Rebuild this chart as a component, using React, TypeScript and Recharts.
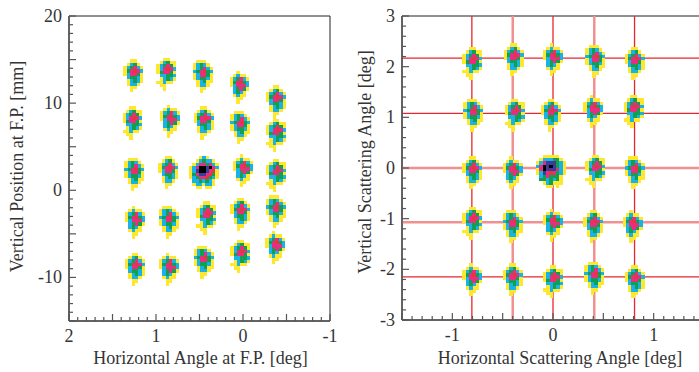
import React from 'react'
import { ScatterChart, Scatter, XAxis, YAxis, ReferenceLine, ReferenceArea } from 'recharts'

const FONT = "'Liberation Serif', 'Times New Roman', serif"
const TEXT = '#353535'
const AXIS = '#555'

// colour levels of the 2D histogram (low -> high)
const LEVELS = ['y', 'c', 'g', 'm', 'r', 'b', 'k']
const LEVEL_COLORS: Record<string, string> = {
  y: '#ffe72c', c: '#17b2e8', g: '#12a04f', m: '#e62d7f', r: '#e8343c', b: '#3a3c97', k: '#000000',
}

// blob shapes, one char per bin, anchored on row 3 (the core)
const ANCHOR_ROW = 3
const STAMPS: string[][] = [
  ['..yy..', '.ycgy.', 'ycgmcy', 'ygmrmc', 'ycmmgy', '.cggcy', '.ycgcy', '.yccy.', '..yy..', '..y...'],
  ['..yy..', '.ycgyy', 'ycgmgy', 'ycmrmc', 'ygmmgy', '.ccggc', '.ycgcy', 'yycyy.', '.yy...', '..y...'],
  ['.yyy..', 'ycgcy.', 'ycgmcy', 'cgmrgc', 'ycmmgy', 'ycggcy', '.ycgyy', '.yccy.', '..yy..', '..y...'],
  ['..y...', '.ycyy.', 'ycgmcy', 'ygmrgc', 'ycmmmc', '.cgmgy', '.cgcy.', '.ycyy.', '..yy..', '..y...'],
  ['...ycy...', '..ycgccy.', '.ycmmgmcy', 'ycmkkbkmc', 'ycbkkbmry', 'ygmbbmrgy', 'ycgmmrgcy', '.ccgcgcy.', '.yccyccy.', '..yy.yy..'],
  ['..yyyyy..', '.ycccggy.', 'ycmbbbgcy', 'cmkbkbgcy', 'ymkbbbmcy', 'ycbmrmgcy', '.cgmgggy.', '.ggcgcgy.', '..ycgyyy.', '...yy.y..'],
]

// left panel: spot cores at the focal plane
const LEFT_ANGLE = [
  1.26, 0.88, 0.46, 0.04, -0.38,
  1.27, 0.84, 0.45, 0.03, -0.38,
  1.25, 0.86, 0.45, 0.0, -0.38,
  1.24, 0.85, 0.42, 0.03, -0.38,
  1.24, 0.85, 0.45, 0.03, -0.37,
]
const LEFT_POS = [
  13.7, 13.9, 13.6, 12.4, 10.7,
  8.3, 8.5, 8.3, 7.8, 6.9,
  2.4, 2.6, 2.6, 2.8, 2.3,
  -3.1, -3.1, -2.6, -2.2, -1.9,
  -8.5, -8.5, -7.7, -7.0, -6.0,
]
const LEFT_STAMP = [0, 1, 2, 3, 0, 1, 3, 0, 2, 1, 2, 0, 4, 3, 1, 3, 2, 1, 0, 2, 0, 3, 2, 1, 3]

// right panel: reconstructed scattering angles
const RIGHT_H = [
  -0.80, -0.39, 0.0, 0.42, 0.81,
  -0.79, -0.38, -0.02, 0.40, 0.80,
  -0.80, -0.40, -0.02, 0.42, 0.81,
  -0.80, -0.40, 0.0, 0.40, 0.79,
  -0.80, -0.40, 0.0, 0.41, 0.81,
]
const RIGHT_V = [
  2.16, 2.23, 2.23, 2.20, 2.16,
  1.14, 1.14, 1.14, 1.21, 1.21,
  0.0, 0.0, 0.03, 0.03, 0.0,
  -0.99, -1.06, -1.03, -1.06, -1.06,
  -2.11, -2.11, -2.15, -2.08, -2.15,
]
const RIGHT_STAMP = [1, 0, 3, 2, 0, 2, 1, 0, 3, 1, 0, 3, 5, 1, 2, 1, 2, 3, 0, 3, 3, 0, 1, 2, 0]

// sieve-slit hole positions
const GRID_H = [-0.806, -0.4, 0, 0.41, 0.81]
const GRID_V = [2.17, 1.08, 0, -1.07, -2.15]
const GRID_H_LIGHT = [false, true, false, true, false]
const GRID_V_LIGHT = [false, false, true, true, false]

type Pt = { x: number; y: number }

function buildCells(xs: number[], ys: number[], stampIdx: number[], bx: number, by: number, flip: boolean) {
  const out: Record<string, Pt[]> = {}
  LEVELS.forEach(k => { out[k] = [] })
  xs.forEach((cx, i) => {
    const pat = STAMPS[stampIdx[i]]
    const ac = (pat[0].length - 1) / 2
    pat.forEach((row, r) => {
      row.split('').forEach((ch, c) => {
        if (ch === '.') return
        out[ch].push({ x: cx + (flip ? -1 : 1) * (c - ac) * bx, y: ys[i] - (r - ANCHOR_ROW) * by })
      })
    })
  })
  return out
}

const leftCells = buildCells(LEFT_ANGLE, LEFT_POS, LEFT_STAMP, 0.038, 0.38, true)
const rightCells = buildCells(RIGHT_H, RIGHT_V, RIGHT_STAMP, 0.033, 0.065, false)

function steps(from: number, to: number, div: number) {
  const out: number[] = []
  for (let k = from; k <= to; k++) out.push(k / div)
  return out
}

const textStyle: React.CSSProperties = { fontFamily: FONT, fontSize: 18, fill: TEXT }

const cellShape = (w: number, h: number, fill: string) => (p: any) => (
  <rect x={p.cx - w / 2} y={p.cy - h / 2} width={w} height={h} fill={fill} shapeRendering="crispEdges" />
)

const makeXTick = (div: number, majorEvery: number, labelEvery: number) => (p: any) => {
  const k = Math.round(p.payload.value * div)
  const major = k % majorEvery === 0
  return (
    <g>
      <line x1={p.x} x2={p.x} y1={p.y} y2={p.y - (major ? 7 : 4)} stroke={AXIS} strokeWidth={1.2} />
      {k % labelEvery === 0 && (
        <text x={p.x} y={p.y + 21} textAnchor="middle" style={textStyle}>
          {String(k / div)}
        </text>
      )}
    </g>
  )
}

const makeYTick = (div: number, majorEvery: number, labelEvery: number) => (p: any) => {
  const k = Math.round(p.payload.value * div)
  const major = k % majorEvery === 0
  return (
    <g>
      <line x1={p.x} x2={p.x + (major ? 7 : 4)} y1={p.y} y2={p.y} stroke={AXIS} strokeWidth={1.2} />
      {k % labelEvery === 0 && (
        <text x={p.x - 7} y={p.y + 6} textAnchor="end" style={textStyle}>
          {String(k / div)}
        </text>
      )}
    </g>
  )
}

const xTitle = (text: string, dx: number) => (p: any) => {
  const vb = p.viewBox || { x: 0, y: 0, width: 0, height: 0 }
  return (
    <text x={vb.x + vb.width / 2 + dx} y={vb.y + vb.height - 8} textAnchor="middle" style={textStyle}>
      {text}
    </text>
  )
}

const yTitle = (text: string, cx: number, dy: number) => (p: any) => {
  const vb = p.viewBox || { x: 0, y: 0, width: 0, height: 0 }
  const x = vb.x + cx
  const y = vb.y + vb.height / 2 + dy
  return (
    <text x={x} y={y} transform={`rotate(-90 ${x} ${y})`} dy="0.35em" textAnchor="middle" style={textStyle}>
      {text}
    </text>
  )
}

export default function App() {
  return (
    <div style={{ position: 'absolute', left: 0, top: 0, width: 699, height: 372, overflow: 'hidden', background: '#fff' }}>
      <div style={{ position: 'absolute', left: 0, top: 0 }}>
        <ScatterChart width={345} height={372} margin={{ top: 16, right: 15, bottom: 0, left: 0 }}>
          <XAxis
            type="number" dataKey="x" domain={[-1, 2]} reversed allowDataOverflow
            ticks={steps(-10, 20, 10)} interval={0} tickSize={0} tickMargin={0} tickLine={false}
            tick={makeXTick(10, 5, 10)} height={51}
            axisLine={{ stroke: AXIS, strokeWidth: 1.5 }}
            label={xTitle('Horizontal Angle at F.P. [deg]', 1)}
          />
          <YAxis
            type="number" dataKey="y" domain={[-15, 20]} allowDataOverflow
            ticks={steps(-15, 20, 1)} interval={0} tickSize={0} tickMargin={0} tickLine={false}
            tick={makeYTick(1, 5, 10)} width={69}
            axisLine={{ stroke: AXIS, strokeWidth: 1.5 }}
            label={yTitle('Vertical Position at F.P. [mm]', 17, -2)}
          />
          <ReferenceArea x1={-1} x2={2} y1={-15} y2={20} fill="none" stroke="#222" strokeWidth={1} />
          {LEVELS.map(k => (
            <Scatter key={k} data={leftCells[k]} fill={LEVEL_COLORS[k]} shape={cellShape(3.4, 3.4, LEVEL_COLORS[k])} isAnimationActive={false} />
          ))}
        </ScatterChart>
      </div>
      <div style={{ position: 'absolute', left: 345, top: 0 }}>
        <ScatterChart width={375} height={372} margin={{ top: 16, right: 16, bottom: 0, left: 0 }}>
          <XAxis
            type="number" dataKey="x" domain={[-1.5, 1.5]} allowDataOverflow
            ticks={steps(-15, 15, 10)} interval={0} tickSize={0} tickMargin={0} tickLine={false}
            tick={makeXTick(10, 5, 10)} height={52}
            axisLine={{ stroke: AXIS, strokeWidth: 1.5 }}
            label={xTitle('Horizontal Scattering Angle [deg]', 7)}
          />
          <YAxis
            type="number" dataKey="y" domain={[-3, 3]} allowDataOverflow
            ticks={steps(-15, 15, 5)} interval={0} tickSize={0} tickMargin={0} tickLine={false}
            tick={makeYTick(5, 5, 5)} width={57}
            axisLine={{ stroke: AXIS, strokeWidth: 1.5 }}
            label={yTitle('Vertical Scattering Angle [deg]', 20, -6)}
          />
          <ReferenceArea x1={-1.5} x2={1.5} y1={-3} y2={3} fill="none" stroke="#222" strokeWidth={1} />
          {LEVELS.map(k => (
            <Scatter key={k} data={rightCells[k]} fill={LEVEL_COLORS[k]} shape={cellShape(3.4, 3.4, LEVEL_COLORS[k])} isAnimationActive={false} />
          ))}
          {GRID_H.map((v, i) => (
            <ReferenceLine key={'h' + i} x={v} stroke={GRID_H_LIGHT[i] ? '#f29090' : '#e8262e'} strokeWidth={GRID_H_LIGHT[i] ? 2.5 : 1.3} />
          ))}
          {GRID_V.map((v, i) => (
            <ReferenceLine key={'v' + i} y={v} stroke={GRID_V_LIGHT[i] ? '#f29090' : '#e8262e'} strokeWidth={GRID_V_LIGHT[i] ? 2.5 : 1.3} />
          ))}
        </ScatterChart>
      </div>
    </div>
  )
}
